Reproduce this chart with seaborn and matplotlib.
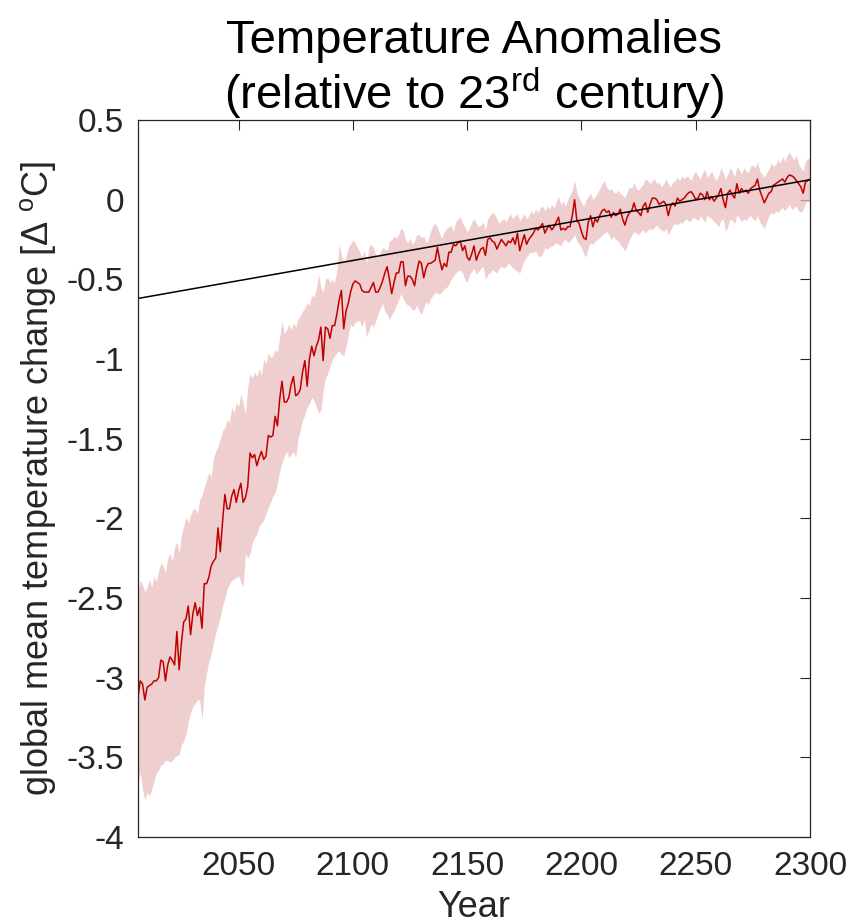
import numpy as np
import pandas as pd
import matplotlib
matplotlib.use("Agg")
import matplotlib.pyplot as plt
from matplotlib import font_manager
import seaborn as sns

# ---------------- data ----------------
start_year = 2006
end_year = 2300

mean_anomaly = [
    -3.12, -3.02, -3.04, -3.14, -3.06, -3.05, -3.04, -3.02, -3.02, -3.00,
    -2.89, -2.90, -3.02, -2.92, -2.87, -2.89, -2.92, -2.71, -2.95, -2.78,
    -2.65, -2.63, -2.55, -2.73, -2.60, -2.53, -2.61, -2.56, -2.69, -2.41,
    -2.41, -2.37, -2.30, -2.27, -2.25, -2.06, -2.21, -2.02, -1.85, -1.94,
    -1.94, -1.86, -1.82, -1.90, -1.83, -1.78, -1.90, -1.87, -1.80, -1.59,
    -1.62, -1.60, -1.67, -1.62, -1.58, -1.63, -1.61, -1.48, -1.49, -1.48,
    -1.36, -1.42, -1.25, -1.14, -1.27, -1.27, -1.24, -1.16, -1.11, -1.23,
    -1.22, -1.19, -1.08, -1.01, -1.17, -1.00, -0.92, -0.98, -0.92, -0.88,
    -0.80, -1.01, -0.80, -0.81, -0.87, -0.79, -0.79, -0.72, -0.63, -0.57,
    -0.81, -0.70, -0.65, -0.58, -0.53, -0.51, -0.52, -0.53, -0.57, -0.58,
    -0.58, -0.58, -0.55, -0.52, -0.58, -0.58, -0.55, -0.51, -0.46, -0.42,
    -0.50, -0.59, -0.52, -0.46, -0.46, -0.39, -0.39, -0.54, -0.48, -0.48,
    -0.50, -0.54, -0.45, -0.385, -0.40, -0.49, -0.43, -0.40, -0.40, -0.39,
    -0.38, -0.30, -0.38, -0.44, -0.40, -0.42, -0.33, -0.33, -0.28, -0.29,
    -0.27, -0.26, -0.32, -0.29, -0.36, -0.38, -0.34, -0.29, -0.38, -0.34,
    -0.31, -0.30, -0.35, -0.25, -0.24, -0.26, -0.27, -0.31, -0.28, -0.25,
    -0.27, -0.29, -0.26, -0.27, -0.24, -0.28, -0.21, -0.32, -0.27, -0.22,
    -0.28, -0.25, -0.23, -0.21, -0.18, -0.19, -0.17, -0.15, -0.21, -0.18,
    -0.16, -0.19, -0.17, -0.14, -0.11, -0.19, -0.18, -0.19, -0.17, -0.17,
    -0.10, 0.00, -0.13, -0.15, -0.20, -0.24, -0.25, -0.14, -0.10, -0.17,
    -0.12, -0.14, -0.10, -0.07, -0.06, -0.08, -0.07, -0.11, -0.08, -0.10,
    -0.09, -0.06, -0.12, -0.16, -0.11, -0.08, -0.07, -0.02, -0.07, -0.08,
    -0.10, -0.04, -0.02, -0.08, -0.03, 0.01, 0.01, 0.00, -0.03, -0.02,
    -0.01, -0.03, -0.10, -0.04, -0.02, -0.04, 0.01, -0.01, 0.00, 0.01,
    0.03, 0.045, 0.05, 0.03, 0.00, 0.01, 0.04, 0.03, 0.00, 0.05,
    0.00, 0.02, -0.01, 0.01, 0.03, 0.07, 0.00, -0.05, 0.04, 0.06,
    0.03, 0.01, 0.10, 0.04, 0.07, 0.05, 0.06, 0.04, 0.07, 0.08,
    0.09, 0.13, 0.06, 0.02, -0.02, 0.01, 0.04, 0.05, 0.09, 0.10,
    0.11, 0.12, 0.13, 0.11, 0.14, 0.155, 0.15, 0.14, 0.12, 0.10,
    0.08, 0.04, 0.11, 0.12, 0.13,
]

upper_bound = [
    -2.45, -2.39, -2.42, -2.46, -2.43, -2.38, -2.43, -2.36, -2.40, -2.33,
    -2.28, -2.30, -2.34, -2.25, -2.22, -2.27, -2.18, -2.15, -2.22, -2.10,
    -2.05, -1.99, -2.03, -1.98, -1.94, -1.94, -1.97, -1.88, -1.86, -1.80,
    -1.76, -1.71, -1.74, -1.62, -1.58, -1.55, -1.50, -1.45, -1.43, -1.38,
    -1.40, -1.30, -1.34, -1.27, -1.30, -1.22, -1.28, -1.34, -1.18, -1.09,
    -1.12, -1.08, -1.11, -1.06, -1.10, -1.00, -1.03, -0.96, -0.99, -0.98,
    -0.94, -0.96, -0.86, -0.76, -0.84, -0.82, -0.78, -0.82, -0.77, -0.80,
    -0.75, -0.73, -0.70, -0.68, -0.65, -0.66, -0.60, -0.61, -0.56, -0.47,
    -0.55, -0.58, -0.50, -0.49, -0.52, -0.50, -0.52, -0.45, -0.28, -0.35,
    -0.40, -0.36, -0.30, -0.28, -0.25, -0.27, -0.30, -0.33, -0.36, -0.32,
    -0.40, -0.30, -0.28, -0.30, -0.35, -0.36, -0.33, -0.30, -0.31, -0.32,
    -0.26, -0.25, -0.23, -0.24, -0.22, -0.18, -0.19, -0.25, -0.27, -0.24,
    -0.28, -0.26, -0.22, -0.22, -0.24, -0.23, -0.27, -0.25, -0.20, -0.16,
    -0.15, -0.17, -0.22, -0.24, -0.20, -0.18, -0.17, -0.16, -0.20, -0.14,
    -0.12, -0.11, -0.15, -0.17, -0.20, -0.18, -0.14, -0.12, -0.15, -0.17,
    -0.16, -0.14, -0.19, -0.12, -0.10, -0.08, -0.09, -0.12, -0.15, -0.13,
    -0.12, -0.14, -0.11, -0.09, -0.12, -0.10, -0.09, -0.13, -0.11, -0.09,
    -0.12, -0.10, -0.07, -0.09, -0.06, -0.08, -0.05, -0.04, -0.07, -0.04,
    -0.06, -0.03, -0.05, -0.01, 0.02, -0.03, -0.01, -0.04, 0.00, 0.03,
    0.06, 0.12, 0.05, 0.01, -0.02, -0.04, 0.00, 0.02, 0.04, 0.00,
    0.02, 0.04, 0.07, 0.10, 0.12, 0.08, 0.06, 0.07, 0.05, 0.04,
    0.06, 0.04, 0.03, 0.01, 0.05, 0.08, 0.07, 0.11, 0.07, 0.06,
    0.08, 0.10, 0.13, 0.12, 0.10, 0.12, 0.13, 0.10, 0.11, 0.08,
    0.10, 0.13, 0.10, 0.08, 0.11, 0.12, 0.14, 0.12, 0.15, 0.13,
    0.15, 0.14, 0.12, 0.16, 0.18, 0.15, 0.13, 0.17, 0.19, 0.14,
    0.16, 0.18, 0.14, 0.12, 0.15, 0.20, 0.17, 0.13, 0.16, 0.20,
    0.18, 0.14, 0.21, 0.19, 0.16, 0.20, 0.18, 0.17, 0.21, 0.22,
    0.20, 0.24, 0.18, 0.16, 0.14, 0.17, 0.19, 0.23, 0.21, 0.22,
    0.25, 0.23, 0.27, 0.24, 0.28, 0.30, 0.27, 0.25, 0.28, 0.22,
    0.20, 0.18, 0.24, 0.26, 0.25,
]

lower_bound = [
    -3.65, -3.60, -3.70, -3.77, -3.72, -3.74, -3.70, -3.65, -3.60, -3.58,
    -3.55, -3.54, -3.52, -3.52, -3.53, -3.52, -3.50, -3.49, -3.48, -3.42,
    -3.40, -3.35, -3.28, -3.22, -3.18, -3.16, -3.14, -3.14, -3.27, -3.05,
    -2.97, -2.90, -2.85, -2.78, -2.72, -2.67, -2.62, -2.55, -2.50, -2.44,
    -2.41, -2.39, -2.38, -2.37, -2.36, -2.40, -2.43, -2.22, -2.25, -2.22,
    -2.15, -2.12, -2.10, -2.05, -2.03, -2.01, -1.97, -1.93, -1.90, -1.86,
    -1.84, -1.78, -1.70, -1.65, -1.61, -1.58, -1.62, -1.60, -1.58, -1.62,
    -1.50, -1.45, -1.38, -1.35, -1.30, -1.28, -1.24, -1.26, -1.30, -1.34,
    -1.32, -1.20, -1.12, -1.09, -1.05, -1.00, -0.98, -0.96, -0.95, -0.97,
    -0.98, -0.92, -0.85, -0.78, -0.80, -0.77, -0.76, -0.76, -0.80, -0.75,
    -0.86, -0.82, -0.78, -0.80, -0.76, -0.72, -0.68, -0.65, -0.70, -0.72,
    -0.75, -0.72, -0.70, -0.66, -0.63, -0.59, -0.62, -0.65, -0.66, -0.67,
    -0.69, -0.69, -0.66, -0.70, -0.72, -0.68, -0.64, -0.66, -0.62, -0.60,
    -0.58, -0.59, -0.59, -0.58, -0.56, -0.55, -0.53, -0.50, -0.48, -0.46,
    -0.45, -0.44, -0.46, -0.50, -0.52, -0.47, -0.45, -0.43, -0.47, -0.45,
    -0.43, -0.42, -0.50, -0.47, -0.46, -0.44, -0.45, -0.46, -0.43, -0.42,
    -0.43, -0.42, -0.40, -0.41, -0.43, -0.44, -0.45, -0.46, -0.42, -0.38,
    -0.36, -0.34, -0.33, -0.33, -0.32, -0.35, -0.36, -0.34, -0.30, -0.31,
    -0.30, -0.29, -0.28, -0.27, -0.28, -0.29, -0.26, -0.25, -0.27, -0.26,
    -0.24, -0.22, -0.26, -0.28, -0.30, -0.34, -0.36, -0.30, -0.27, -0.28,
    -0.26, -0.25, -0.24, -0.22, -0.21, -0.20, -0.22, -0.25, -0.23, -0.25,
    -0.26, -0.28, -0.30, -0.32, -0.29, -0.25, -0.22, -0.20, -0.21, -0.22,
    -0.20, -0.19, -0.21, -0.19, -0.18, -0.19, -0.17, -0.16, -0.18, -0.19,
    -0.20, -0.18, -0.22, -0.19, -0.16, -0.15, -0.16, -0.14, -0.15, -0.13,
    -0.12, -0.14, -0.13, -0.11, -0.12, -0.13, -0.10, -0.12, -0.14, -0.10,
    -0.11, -0.12, -0.14, -0.15, -0.17, -0.13, -0.12, -0.20, -0.17, -0.12,
    -0.13, -0.15, -0.10, -0.11, -0.14, -0.12, -0.13, -0.11, -0.10, -0.12,
    -0.13, -0.10, -0.14, -0.16, -0.18, -0.14, -0.10, -0.08, -0.09, -0.07,
    -0.08, -0.06, -0.05, -0.07, -0.05, -0.03, -0.06, -0.05, -0.04, -0.07,
    -0.08, -0.06, -0.02, -0.01, -0.02,
]

trend_years = [2006, 2300]
trend_values = [-0.62, 0.125]

x_ticks = [2050, 2100, 2150, 2200, 2250, 2300]
y_ticks = [0.5, 0, -0.5, -1, -1.5, -2, -2.5, -3, -3.5, -4]
y_tick_labels = ["0.5", "0", "-0.5", "-1", "-1.5", "-2", "-2.5", "-3", "-3.5", "-4"]

# ---------------- style ----------------
sns.set_theme(style="white")
names = {f.name for f in font_manager.fontManager.ttflist}
main_font = "Liberation Sans Narrow" if "Liberation Sans Narrow" in names else "Liberation Sans"
plt.rcParams["font.family"] = [main_font, "Liberation Sans", "DejaVu Sans"]
plt.rcParams["mathtext.fontset"] = "custom"
plt.rcParams["mathtext.rm"] = main_font
plt.rcParams["mathtext.it"] = main_font
plt.rcParams["mathtext.bf"] = main_font

years = np.arange(start_year, end_year + 1)
df = pd.DataFrame({"year": years, "mean": mean_anomaly,
                   "lo": lower_bound, "hi": upper_bound})
trend_df = pd.DataFrame({"year": trend_years, "value": trend_values})

fig = plt.figure(figsize=(8.54, 9.24), dpi=100)
ax = fig.add_axes([138 / 854, 87 / 924, 672 / 854, 717 / 924])

ax.fill_between(df["year"], df["lo"], df["hi"], color="#e9bebe", alpha=0.75,
                linewidth=0)
sns.lineplot(data=df, x="year", y="mean", ax=ax, color="#c00000", linewidth=1.1)
sns.lineplot(data=trend_df, x="year", y="value", ax=ax, color="black", linewidth=1.1)

ax.set_xlim(start_year, end_year)
ax.set_ylim(-4, 0.5)
ax.set_xticks(x_ticks)
ax.set_xticklabels([str(t) for t in x_ticks])
ax.set_yticks(y_ticks)
ax.set_yticklabels(y_tick_labels)

text_color = "#262626"
ax.tick_params(axis="both", which="both", direction="in", length=7, width=0.8,
               top=True, right=True, labelsize=24, colors=text_color, pad=10)
for s in ax.spines.values():
    s.set_color(text_color)
    s.set_linewidth(0.9)
    s.set_visible(True)

ax.set_xlabel("Year", fontsize=26, color=text_color, labelpad=6)
ax.set_ylabel(r"global mean temperature change [$\Delta\ ^{\rm o}$C]",
              fontsize=26, color=text_color, labelpad=6)
ax.set_title("Temperature Anomalies\n(relative to 23$^{\\rm rd}$ century)",
             fontsize=34, color="black", pad=8, linespacing=1.05)

fig.savefig("out.png", dpi=100)
